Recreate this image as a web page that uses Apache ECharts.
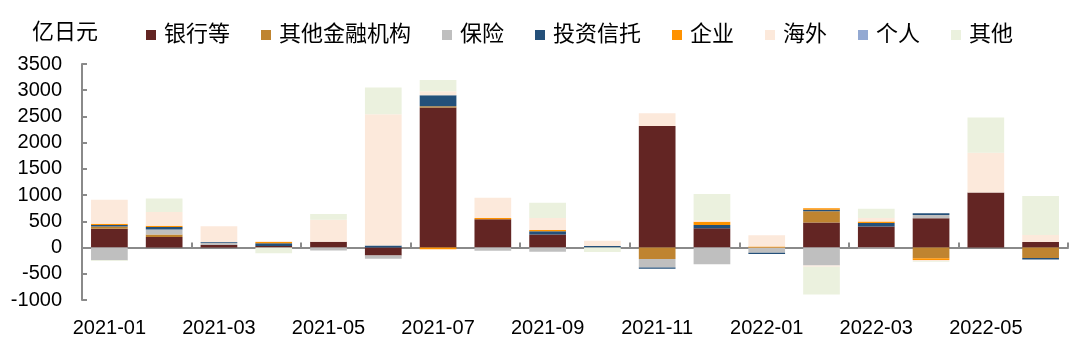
<!DOCTYPE html>
<html>
<head>
<meta charset="utf-8">
<script src="https://cdn.jsdelivr.net/npm/echarts@6/dist/echarts.min.js"></script>
<style>
html,body{margin:0;padding:0;background:#fff;}
#c{width:1080px;height:342px;}
</style>
</head>
<body>
<div id="c"></div>
<script>
const categories = ['2021-01','2021-02','2021-03','2021-04','2021-05','2021-06','2021-07','2021-08','2021-09','2021-10','2021-11','2021-12','2022-01','2022-02','2022-03','2022-04','2022-05','2022-06'];
const yTicks = [-1000,-500,0,500,1000,1500,2000,2500,3000,3500];
const seriesNames = ['银行等','其他金融机构','保险','投资信托','企业','海外','个人','其他'];

const banks      = [360, 200,  50,   30, 110, -150, 2670, 540, 250,   0, 2320, 370,    0,  480, 400,  560, 1050, 105];
const otherFin   = [ 40,  50,   0,    0,   0,    0,   25,   0,   0,   0, -220,   0,    0,  210,   0, -205,    0, -200];
const insurance  = [-240, 95,  40,    0, -55,  -65,    0, -60, -80,   0, -160, -320, -100, -340, -20,  60,    0,    0];
const trust      = [ 30,  45,  15,   50,   0,   40,  210,   0,  60,  30,  -25,  60,  -25,   30,  70,   35,    0,  -30];
const corporate  = [ 25,  25,   0,   25,   0,    0,  -30,  25,  25,   0,    0,  60,   20,   30,  25,  -30,    0,    0];
const overseas   = [455, 263, 300,   15, 420, 2500,   75, 385, 230, 100,  240,  30,  215,  -25,  70,  -20,  760,  133];
const individual = [  0,   0,   0,    0,   0,    0,    0,   0,   0,   0,    0,   0,    0,    0,   0,    0,    0,    0];
const others     = [-15, 256,   0, -110, 110,  510,  215,   0, 290, -85,    0, 500,    0, -530, 175,  -15,  670,  743];

const values = [banks, otherFin, insurance, trust, corporate, overseas, individual, others];
const colors = ['#632523','#BF8430','#BFBFBF','#24507A','#FF9200','#FCE9DB','#93A9D2','#EBF1DE'];

const FONT = '"Liberation Sans", "Noto Sans CJK SC", sans-serif';
const axisGrey = '#8a8a8a';

const chart = echarts.init(document.getElementById('c'));
chart.setOption({
  animation: false,
  textStyle: { fontFamily: FONT, color: '#000' },
  title: {
    text: '亿日元', left: 27, top: 17,
    textStyle: { fontSize: 22, fontWeight: 'normal', color: '#000', fontFamily: FONT }
  },
  legend: {
    data: seriesNames,
    left: 141, top: 19,
    itemWidth: 10, itemHeight: 10, itemGap: 31,
    icon: 'rect',
    textStyle: { fontSize: 22, color: '#000', fontFamily: FONT, padding: [0,0,0,3] }
  },
  grid: { left: 82, right: 12, top: 64, bottom: 42, containLabel: false },
  xAxis: [
    {
      type: 'category', data: categories, position: 'top',
      axisLine: { onZero: true, lineStyle: { color: axisGrey, width: 2 } },
      axisTick: { show: true, inside: false, interval: 1, length: 5, lineStyle: { color: axisGrey, width: 2 } },
      axisLabel: { show: false },
      splitLine: { show: false }
    },
    {
      type: 'category', data: categories, position: 'bottom',
      axisLine: { show: false, onZero: false },
      axisTick: { show: false },
      axisLabel: { interval: 1, margin: 18, fontSize: 20, color: '#000', fontFamily: FONT },
      splitLine: { show: false }
    }
  ],
  yAxis: {
    type: 'value', min: yTicks[0], max: yTicks[yTicks.length-1], interval: 500,
    axisLine: { show: true, lineStyle: { color: axisGrey, width: 2 } },
    axisTick: { show: true, inside: true, length: 5, lineStyle: { color: axisGrey, width: 2 } },
    axisLabel: { fontSize: 20, color: '#000', margin: 20, fontFamily: FONT, formatter: v => String(v) },
    splitLine: { show: false }
  },
  series: seriesNames.map((n, i) => ({
    name: n, type: 'bar', stack: 'total', xAxisIndex: 0,
    barWidth: '67%',
    itemStyle: { color: colors[i] },
    data: values[i]
  }))
});
</script>
</body>
</html>
